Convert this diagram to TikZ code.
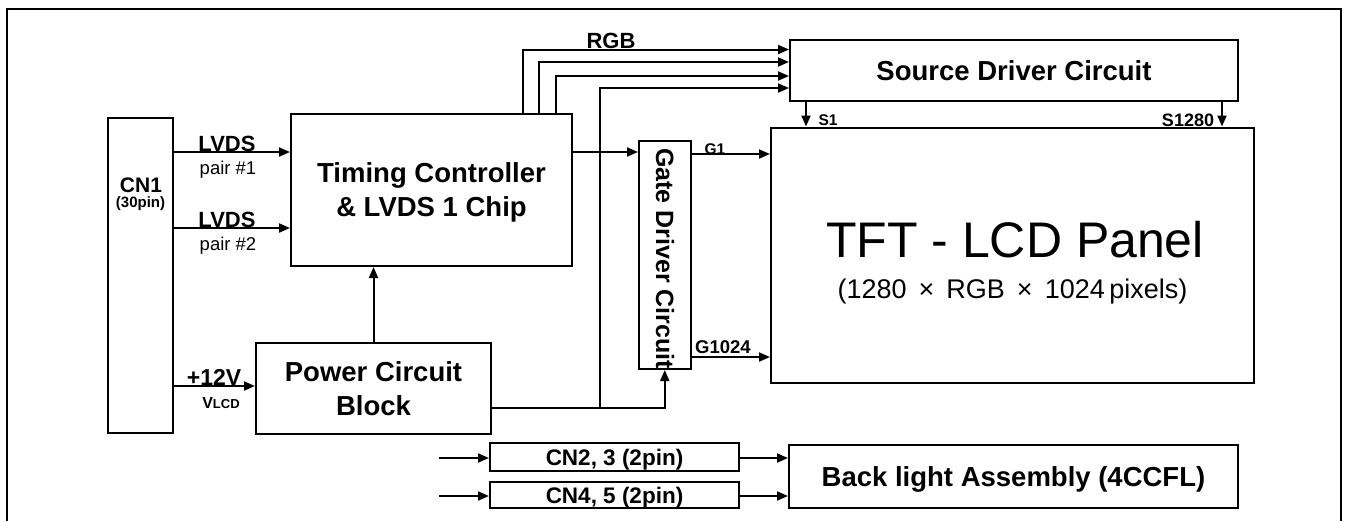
\documentclass[tikz,border=0pt]{standalone}
\usepackage{fontspec}
\setmainfont{Liberation Sans}
\usepackage{tikz}
\usetikzlibrary{arrows.meta, positioning, calc}

\newcommand{\setfs}[2]{\fontsize{#1}{#2}\selectfont}

\tikzset{
  blk/.style={draw, line width=1pt, inner sep=0pt, align=center, text depth=0pt},
  big/.style={font=\bfseries\setfs{13.75}{17}},
  sig/.style={line width=1pt, -{Triangle[length=5.5pt, width=4.5pt]}},
  wire/.style={line width=1pt},
  tag/.style={anchor=base, inner sep=0pt, font=\bfseries\setfs{9.25}{11}},
}

\begin{document}
\begin{tikzpicture}[x=0.5pt, y=-0.5pt]
  \useasboundingbox (0,0) rectangle (1353,521);
  % Outer frame (open at the bottom)
  \draw[line width=1pt] (7,521) -- (7,9) -- (1341,9) -- (1341,521);

  % Connector CN1
  \node[blk, minimum width=32.5pt, minimum height=157.5pt] (cn1) at (140.5,275.5) {};
  \node[tag, font=\bfseries\setfs{10.5}{12}] (cn1name) at (141,192) {CN1};
  \node[tag, font=\bfseries\setfs{7.5}{9}] (cn1pins) at (140.5,207) {(30pin)};

  % Controller and power
  \node[blk, big, minimum width=140.5pt, minimum height=76pt] (tcon) at (431.5,190) {Timing Controller\\\& LVDS 1 Chip};
  \node[blk, big, minimum width=117.5pt, minimum height=45.5pt] (pwr) at (373.5,388.5) {Power Circuit\\Block};

  % Drivers
  \node[blk, minimum width=25.75pt, minimum height=114pt] (gate) at (664.75,255) {};
  \node[rotate=-90, inner sep=0pt, font=\bfseries\setfs{12.5}{14}] (gatename) at (665,258.5) {Gate Driver Circuit};
  \node[blk, big, minimum width=224pt, minimum height=30.75pt] (src) at (1014,70.25) {Source Driver Circuit};

  % Panel
  \node[blk, minimum width=241.5pt, minimum height=127.5pt] (tft) at (1012.5,255) {};
  \node[anchor=base, inner sep=0pt, font=\setfs{25}{28}] (tftname) at (1015,257) {TFT - LCD Panel};
  \node[anchor=base, inner sep=0pt, font=\setfs{13.5}{15}] (tftres) at (1012.5,298) {(1280 \,×\, RGB \,×\, 1024\,pixels)};

  % Backlight
  \node[blk, font=\bfseries\setfs{11.25}{13}, minimum width=124.5pt, minimum height=14pt] (cn23) at (614.5,457) {CN2, 3 (2pin)};
  \node[blk, font=\bfseries\setfs{11.25}{13}, minimum width=124.5pt, minimum height=13pt] (cn45) at (614.5,495) {CN4, 5 (2pin)};
  \node[blk, big, minimum width=224.5pt, minimum height=31.5pt] (bl) at (1013.5,476.5) {Back light Assembly (4CCFL)};

  % Signal rails
  \coordinate (lv1) at (0,152);
  \coordinate (lv2) at (0,228);
  \coordinate (v12) at (0,386);
  \coordinate (r1) at (522.5,49.5);
  \coordinate (r2) at (539,62);
  \coordinate (r3) at (556,76);
  \coordinate (r4) at (0,88);
  \coordinate (pj) at (600,408);
  \coordinate (g1) at (0,154);
  \coordinate (gn) at (0,357);
  \coordinate (s1) at (806,0);
  \coordinate (sn) at (1222,0);
  \coordinate (in23) at (439,458);
  \coordinate (in45) at (439,496);

  % Inputs from CN1
  \draw[sig] (cn1.east |- lv1) -- (tcon.west |- lv1);
  \draw[sig] (cn1.east |- lv2) -- (tcon.west |- lv2);
  \draw[sig] (cn1.east |- v12) -- (pwr.west |- v12);
  \node[tag, font=\bfseries\setfs{11}{13}] (lvdsA) at (227,151) {LVDS};
  \node[tag, font=\setfs{9.25}{11}] (pairA) at (228,174) {pair \#1};
  \node[tag, font=\bfseries\setfs{11}{13}] (lvdsB) at (227,227) {LVDS};
  \node[tag, font=\setfs{9.25}{11}] (pairB) at (228,250) {pair \#2};
  \node[tag, font=\bfseries\setfs{11.5}{13}] (vin) at (214,385) {+12V};
  \node[tag, font=\bfseries\setfs{8}{9}] (vlcd) at (221,408) {V{\setfs{6.5}{8}LCD}};

  % Power and timing
  \draw[sig] (pwr.north) -- (tcon.south -| pwr.north);
  \draw[sig] (tcon.east |- lv1) -- (gate.west |- lv1);
  \foreach \r in {r1,r2,r3}
    \draw[sig] (tcon.north -| \r) |- (src.west |- \r);
  \node[tag, font=\bfseries\setfs{11}{13}] (rgb) at (611,48) {RGB};
  \draw[wire] (pwr.east |- pj) -- (pj);
  \draw[sig] (pj) -| (gate.south);
  \draw[sig] (pj) |- (src.west |- r4);

  % Gate and source lines
  \draw[sig] (gate.east |- g1) -- (tft.west |- g1);
  \draw[sig] (gate.east |- gn) -- (tft.west |- gn);
  \draw[sig] (src.south -| s1) -- (tft.north -| s1);
  \draw[sig] (src.south -| sn) -- (tft.north -| sn);
  \node[tag, font=\bfseries\setfs{7.75}{9}] (g1lbl) at (715,154) {G1};
  \node[tag] (gnlbl) at (723,353) {G1024};
  \node[tag, font=\bfseries\setfs{7.75}{9}] (s1lbl) at (828,125) {S1};
  \node[tag, font=\bfseries\setfs{9}{11}] (snlbl) at (1188,126) {S1280};

  % Lamp connectors
  \draw[sig] (in23) -- (cn23.west |- in23);
  \draw[sig] (in45) -- (cn45.west |- in45);
  \draw[sig] (cn23.east |- in23) -- (bl.west |- in23);
  \draw[sig] (cn45.east |- in45) -- (bl.west |- in45);
\end{tikzpicture}
\end{document}
